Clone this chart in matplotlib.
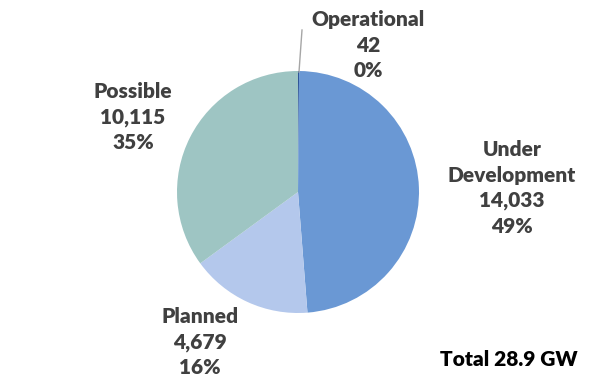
import matplotlib.pyplot as plt

# Data
labels = ['Operational', 'Under\nDevelopment', 'Planned', 'Possible']
values = [42, 14033, 4679, 10115]
colors = ['#2f5597', '#6a98d4', '#b4c8ec', '#9ec5c3']

plt.rcParams['font.family'] = ['Lato', 'DejaVu Sans']

W, H = 592, 379
fig = plt.figure(figsize=(W / 100, H / 100), dpi=100)
ax = fig.add_axes([0, 0, 1, 1])

# Pie in pixel coordinates (y flipped)
cx, cy, r = 298, 192, 121
ax.pie(values, colors=colors, startangle=90, counterclock=False,
       center=(cx, H - cy), radius=r, wedgeprops=dict(linewidth=0))

ax.set_xlim(0, W)
ax.set_ylim(0, H)
ax.set_aspect('equal')
ax.axis('off')

total = sum(values)
label_pos = [(368, 45), (512, 188), (200, 342), (133, 117)]
for lab, val, (x, y) in zip(labels, values, label_pos):
    pct = round(val / total * 100)
    ax.text(x, H - y, f'{lab}\n{val:,}\n{pct}%', ha='center', va='center',
            fontsize=15, fontweight='heavy', color='#404040', linespacing=1.4)

# Leader line for the tiny slice
ax.plot([299, 302], [H - 72, H - 30], color='#a6a6a6', linewidth=1)

ax.text(578, H - 360, f'Total {total / 1000:.1f} GW', ha='right', va='center',
        fontsize=15, fontweight='heavy', color='black')

plt.savefig('out.png', dpi=100)
